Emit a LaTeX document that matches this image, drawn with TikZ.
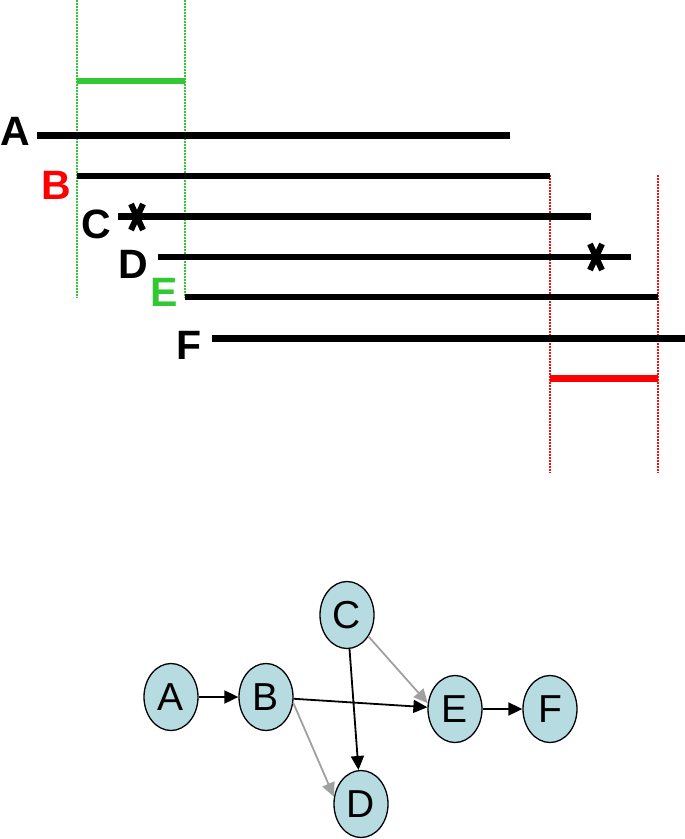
\documentclass[tikz,border=0pt]{standalone}
\usepackage{fontspec}
\setmainfont{Liberation Sans}
\usetikzlibrary{shapes.geometric,arrows.meta}
\definecolor{lgreen}{RGB}{50,200,50}
\definecolor{lred}{RGB}{235,20,20}
\definecolor{nodefill}{RGB}{182,220,226}
\definecolor{edgegray}{RGB}{160,160,160}
\tikzset{
  bar/.style={line width=6.5pt},
  vguide/.style={line width=1.2pt, dash pattern=on 1.5pt off 1.5pt},
  lab/.style={font=\fontsize{41}{41}\bfseries\selectfont, inner sep=0pt, anchor=center},
  cross/.style={line width=6pt},
  gnode/.style={ellipse, draw=black, line width=1.3pt, fill=nodefill, minimum width=54pt, minimum height=67pt, inner sep=0pt, font=\fontsize{39}{39}\selectfont},
  darr/.style={line width=1.8pt, black, -{Triangle[length=14pt,width=13pt]}},
  garr/.style={line width=1.8pt, edgegray, -{Triangle[length=14pt,width=13pt]}}
}
\begin{document}
\begin{tikzpicture}[x=1pt,y=-1pt]
\useasboundingbox (0,0) rectangle (685,839);
% green window
\draw[vguide, draw=lgreen] (77,0) -- (77,298);
\draw[vguide, draw=lgreen] (185,0) -- (185,298);
\draw[bar, draw=lgreen] (77,81) -- (185,81);
% red window
\draw[vguide, draw=lred] (550,175) -- (550,473);
\draw[vguide, draw=lred] (658,175) -- (658,473);
\draw[bar, draw=red] (550,378.5) -- (658,378.5);
% bars
\draw[bar] (37,135.5) -- (510,135.5);
\draw[bar] (77,176) -- (550,176);
\draw[bar] (118,216.5) -- (591,216.5);
\draw[bar] (158,257) -- (631,257);
\draw[bar] (185,297) -- (658,297);
\draw[bar] (212,338.5) -- (685,338.5);
% labels
\node[lab] (lA) at (15,131) {A};
\node[lab, red] (lB) at (56,185) {B};
\node[lab] (lC) at (96,224) {C};
\node[lab] (lD) at (133,264) {D};
\node[lab, lgreen] (lE) at (164,292) {E};
\node[lab] (lF) at (189,345) {F};
% crosses
\draw[cross] (131,204) -- (143,230) (143,204) -- (131,230);
\draw[cross] (590,244) -- (602,270) (602,244) -- (590,270);
% graph
\node[gnode] (A) at (171,697) {A};
\node[gnode] (B) at (266,697) {B};
\node[gnode] (C) at (347,615) {C};
\node[gnode] (D) at (361,804) {D};
\node[gnode] (E) at (455,709) {E};
\node[gnode] (F) at (550,709) {F};
\draw[darr] (A) -- (B);
\draw[darr] (B) -- (E);
\draw[darr] (C) -- (D);
\draw[darr] (E) -- (F);
\draw[garr] (C.-45) -- (E.168);
\draw[garr] (B.-12) -- (D.165);
\end{tikzpicture}
\end{document}
